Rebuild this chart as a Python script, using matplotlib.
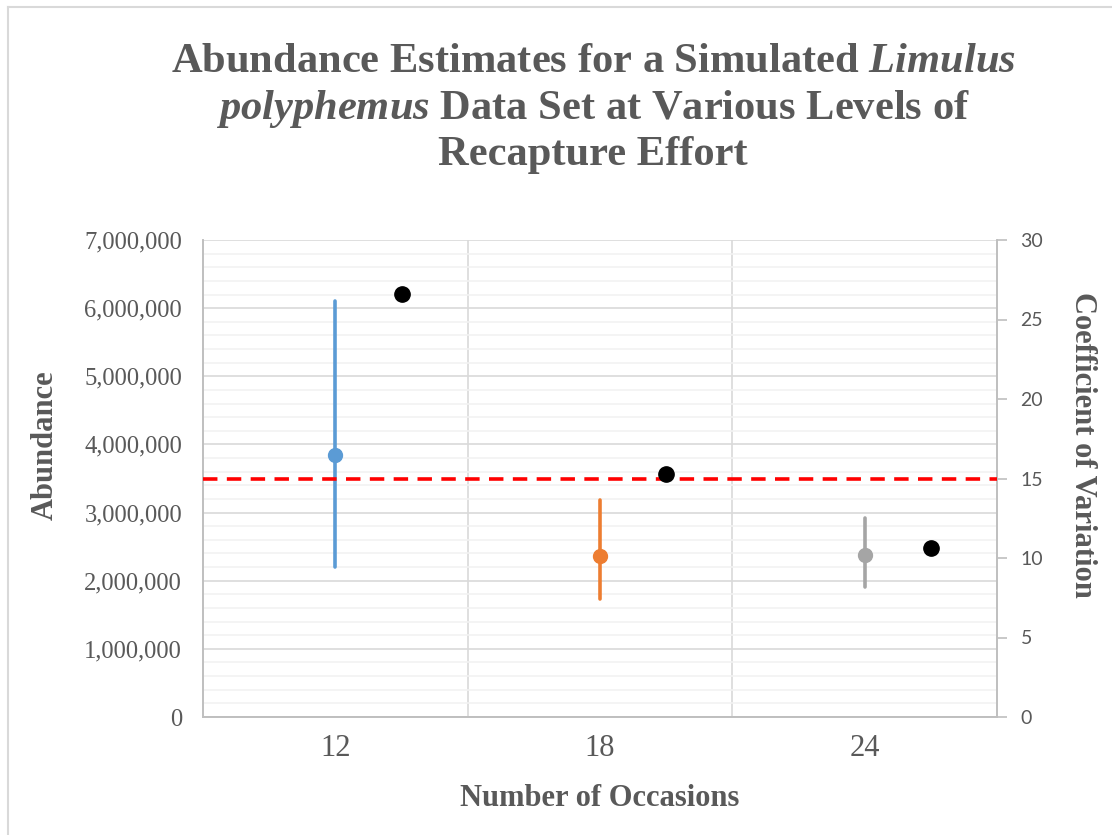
import matplotlib.pyplot as plt
import numpy as np
from matplotlib.ticker import FuncFormatter, MultipleLocator

# data
occasions = ['12', '18', '24']
abundance = [3850000, 2365000, 2380000]
ci_low = [2200000, 1735000, 1910000]
ci_high = [6100000, 3180000, 2920000]
cv = [26.6, 15.3, 10.6]
cv_target = 15
series_colors = ['#5B9BD5', '#ED7D31', '#A5A5A5']

plt.rcParams['mathtext.fontset'] = 'custom'
plt.rcParams['mathtext.rm'] = 'Liberation Serif:bold'
plt.rcParams['mathtext.it'] = 'Liberation Serif:italic:bold'

txt = '#595959'
grid_major = '#D9D9D9'
grid_minor = '#F2F2F2'

fig = plt.figure(figsize=(11.12, 8.35), dpi=100)
ax = fig.add_axes([203/1112, 1 - 717/835, 794/1112, 477/835])
ax2 = ax.twinx()

x = np.arange(len(occasions))
for i in range(len(occasions)):
    ax.plot([x[i], x[i]], [ci_low[i], ci_high[i]], color=series_colors[i],
            lw=2.6, solid_capstyle='round', zorder=3)
    ax.plot(x[i], abundance[i], 'o', color=series_colors[i], ms=10, zorder=4)

ax2.plot(x + 0.25, cv, 'o', color='black', ms=11, zorder=5)
ax2.axhline(cv_target, color='#FF0000', lw=2.6, dashes=(4, 2.6), zorder=4)

ax.set_xlim(-0.5, len(occasions) - 0.5)
ax.set_ylim(0, 7000000)
ax2.set_ylim(0, 30)

ax.yaxis.set_major_locator(MultipleLocator(1000000))
ax.yaxis.set_minor_locator(MultipleLocator(200000))
ax.yaxis.set_major_formatter(FuncFormatter(lambda v, p: f'{int(v):,}'))
ax.grid(which='major', axis='y', color=grid_major, lw=1.2)
ax.grid(which='minor', axis='y', color=grid_minor, lw=1.2)
for b in np.arange(0.5, len(occasions) - 0.5):
    ax.axvline(b, color=grid_major, lw=1.2, zorder=0)
ax.set_axisbelow(True)

ax.set_xticks(x)
ax.set_xticklabels(occasions, fontsize=22, color=txt, family='Liberation Serif')
ax.tick_params(axis='x', length=0, pad=12)
ax.tick_params(axis='y', which='both', length=0, pad=15, labelsize=17.7,
               labelcolor=txt)
for lab in ax.get_yticklabels():
    lab.set_family('Liberation Serif')

ax2.yaxis.set_major_locator(MultipleLocator(5))
ax2.tick_params(axis='y', length=7, width=1.2, color='#BFBFBF', labelsize=14,
                labelcolor=txt, pad=10)
for lab in ax2.get_yticklabels():
    lab.set_family('Lato')

for a in (ax, ax2):
    a.spines['top'].set_visible(False)
    for s in ('left', 'right', 'bottom'):
        a.spines[s].set_color('#BFBFBF')
        a.spines[s].set_linewidth(1.2)

ax.set_ylabel('Abundance', fontsize=22, fontweight='bold', color=txt,
              family='Liberation Serif', va='center')
ax.yaxis.set_label_coords(-0.199, 0.57)
ax2.set_ylabel('Coefficient of Variation', fontsize=22, fontweight='bold',
               color=txt, family='Liberation Serif', rotation=270, va='center')
ax2.yaxis.set_label_coords(1.108, 0.57)
ax.set_xlabel('Number of Occasions', fontsize=22, fontweight='bold', color=txt,
              family='Liberation Serif', va='center')
ax.xaxis.set_label_coords(0.5, -0.17)

title_lines = [r'Abundance Estimates for a Simulated $Limulus$',
               r'$polyphemus$ Data Set at Various Levels of',
               r'Recapture Effort']
for k, line in enumerate(title_lines):
    fig.text(593/1112, 1 - (62 + 46.5 * k)/835, line, fontsize=30.6,
             color=txt, ha='center', va='center', family='Liberation Serif',
             fontweight='bold')

# chart frame (cropped on right and bottom)
fig.add_artist(plt.Line2D([8/1112, 8/1112], [0, 1 - 7/835],
                          transform=fig.transFigure, color=grid_major, lw=1.5))
fig.add_artist(plt.Line2D([8/1112, 1], [1 - 7/835, 1 - 7/835],
                          transform=fig.transFigure, color=grid_major, lw=1.5))

fig.savefig('out.png', dpi=100)
